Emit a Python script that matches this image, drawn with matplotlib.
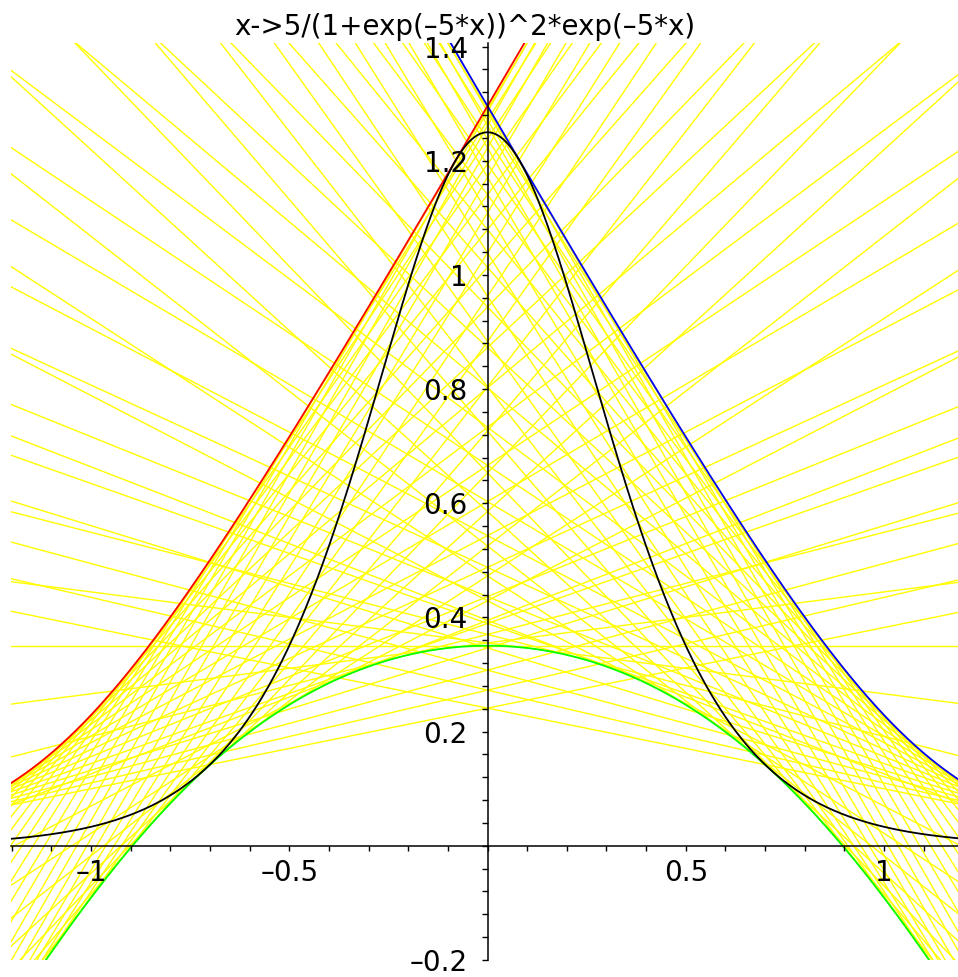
import numpy as np
import matplotlib
matplotlib.use("Agg")
import matplotlib.pyplot as plt
from matplotlib.ticker import FixedLocator, FixedFormatter

# --- datos del grafico (Maple: cuerdas de la curva campana) ---
TITLE = "x->5/(1+exp(\u20135*x))^2*exp(\u20135*x)"

# extremo izquierdo t de cada cuerda amarilla; el derecho es t + CHORD_WIDTH
CHORD_WIDTH = 1.0
CHORD_T = [
    -1.70, -1.67, -1.64, -1.61, -1.58, -1.55, -1.52, -1.49, -1.46, -1.43,
    -1.40, -1.37, -1.34, -1.31, -1.28, -1.25, -1.22, -1.19, -1.16, -1.13,
    -1.10, -1.07, -1.04, -1.01, -0.98, -0.95, -0.92, -0.89, -0.86, -0.83,
    -0.80, -0.77, -0.74, -0.71, -0.68, -0.65, -0.62, -0.59, -0.56, -0.53,
    -0.50, -0.47, -0.44, -0.41, -0.38, -0.35, -0.32, -0.29, -0.26, -0.23,
    -0.20, -0.17, -0.14, -0.11, -0.08, -0.05, -0.02, 0.01, 0.04, 0.07,
    0.10, 0.13, 0.16, 0.19, 0.22, 0.25, 0.28, 0.31, 0.34, 0.37,
    0.40, 0.43, 0.46, 0.49, 0.52, 0.55, 0.58, 0.61, 0.64, 0.67,
    0.70,
]

X_TICKS = [-1.0, -0.5, 0.5, 1.0]
X_LABELS = ["\u20131", "\u20130.5", "0.5", "1"]
Y_TICKS = [-0.2, 0.2, 0.4, 0.6, 0.8, 1.0, 1.2, 1.4]
Y_LABELS = ["\u20130.2", "0.2", "0.4", "0.6", "0.8", "1", "1.2", "1.4"]

XLIM = (-1.2018, 1.1866)
YLIM = (-0.2001, 1.4064)


def f(x):
    # la funcion del titulo
    return 5 / (1 + np.exp(-5 * x)) ** 2 * np.exp(-5 * x)


def df(x):
    F = 1 / (1 + np.exp(-5 * x))
    return 5 * f(x) * (1 - 2 * F)


def main():
    plt.rcParams["font.family"] = ["DejaVu Sans"]
    fig = plt.figure(figsize=(9.58, 9.77), dpi=100)
    ax = fig.add_axes([11 / 958, 17 / 977, 947 / 958, 917 / 977])
    ax.set_xlim(*XLIM)
    ax.set_ylim(*YLIM)

    # cuerdas (rectas completas)
    xs = np.array(XLIM)
    for t in CHORD_T:
        m = (f(t + CHORD_WIDTH) - f(t)) / CHORD_WIDTH
        ax.plot(xs, f(t) + m * (xs - t), color="#ffff00", lw=1.0, zorder=1)

    # envolvente de la familia de cuerdas (3 ramas)
    tt = np.linspace(-2.5, 1.5, 40001)
    m = (f(tt + CHORD_WIDTH) - f(tt)) / CHORD_WIDTH
    dm = (df(tt + CHORD_WIDTH) - df(tt)) / CHORD_WIDTH
    with np.errstate(divide="ignore", invalid="ignore"):
        xe = tt + (m - df(tt)) / dm
    ye = f(tt) + m * (xe - tt)
    ok = (np.abs(xe) < 4) & (np.abs(ye) < 4)

    cambios = tt[np.where(np.diff(np.sign(dm)) != 0)[0]]
    t_lo, t_hi = cambios.min(), cambios.max()

    red = (tt < t_lo) & ok
    green = (tt > t_lo) & (tt < t_hi) & ok
    blue = (tt > t_hi) & ok
    ax.plot(xe[green], ye[green], color="#00ff00", lw=1.3, zorder=2)
    ax.plot(xe[blue], ye[blue], color="#0000ff", lw=1.3, zorder=2)
    ax.plot(xe[red], ye[red], color="#ff0000", lw=1.3, zorder=2)

    xx = np.linspace(XLIM[0], XLIM[1], 800)
    ax.plot(xx, f(xx), color="black", lw=1.3, zorder=3)

    # ejes estilo Maple, cruzando en el origen
    for s in ("top", "right"):
        ax.spines[s].set_visible(False)
    ax.spines["left"].set_position(("data", 0))
    ax.spines["bottom"].set_position(("data", 0))
    for s in ("left", "bottom"):
        ax.spines[s].set_linewidth(1.1)
        ax.spines[s].set_zorder(5)
    ax.patch.set_visible(False)

    ax.xaxis.set_major_locator(FixedLocator(X_TICKS))
    ax.xaxis.set_major_formatter(FixedFormatter(X_LABELS))
    ax.yaxis.set_major_locator(FixedLocator(Y_TICKS))
    ax.yaxis.set_major_formatter(FixedFormatter(Y_LABELS))
    ax.xaxis.set_minor_locator(FixedLocator(np.round(np.arange(-1.2, 1.21, 0.1), 2)))
    ax.yaxis.set_minor_locator(FixedLocator(np.round(np.arange(-0.2, 1.41, 0.04), 2)))
    ax.tick_params(axis="x", which="both", direction="out", length=3.6, width=1.0, labelsize=20, pad=6)
    ax.tick_params(axis="y", which="both", direction="out", length=4.3, width=1.0, labelsize=20, pad=10)
    ax.xaxis.set_zorder(5)
    ax.yaxis.set_zorder(5)

    fig.text(465 / 958, 1 - 35 / 977, TITLE, ha="center", va="baseline", fontsize=20)

    fig.savefig("out.png", dpi=100)
    plt.close(fig)


if __name__ == "__main__":
    main()
